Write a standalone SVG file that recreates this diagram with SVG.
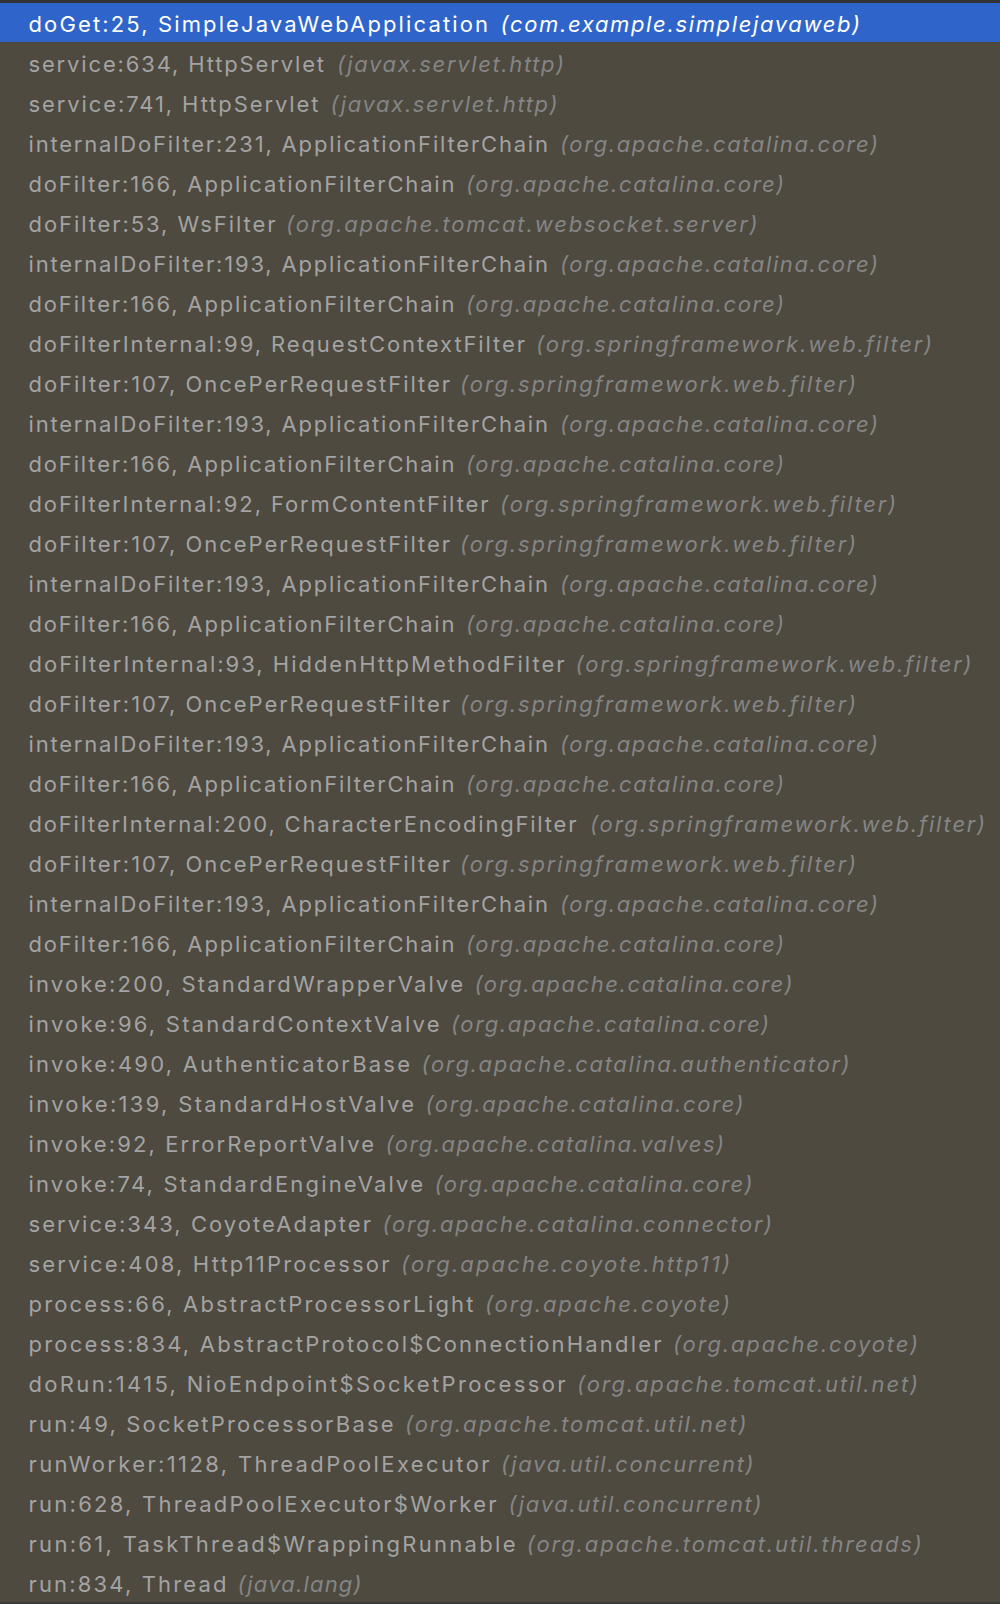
<svg xmlns="http://www.w3.org/2000/svg" width="1000" height="1604" viewBox="0 0 1000 1604">
<style>
text{font-family:Inter,"Liberation Sans",Arial,sans-serif;font-size:22px}
.m{fill:#a3a3a3}
.p{fill:#858585;font-style:italic}
.sel .m,.sel .p{fill:#ffffff}
</style>
<rect x="0" y="0" width="1000" height="1604" fill="#4e4a40"/>
<rect x="0" y="0" width="1000" height="3" fill="#333436"/>
<rect x="0" y="1602" width="1000" height="2" fill="#3a3b3d"/>
<rect x="0" y="3" width="1000" height="39" fill="#2f65ca"/>
<g id="f1" class="sel"><text y="31.7"><tspan class="m" x="28.5" textLength="459.5" lengthAdjust="spacing">doGet:25, SimpleJavaWebApplication</tspan><tspan class="p" x="500.5" textLength="359.5" lengthAdjust="spacing">(com.example.simplejavaweb)</tspan></text></g>
<g id="f2"><text y="71.7"><tspan class="m" x="28.5" textLength="295.5" lengthAdjust="spacing">service:634, HttpServlet</tspan><tspan class="p" x="337" textLength="227" lengthAdjust="spacing">(javax.servlet.http)</tspan></text></g>
<g id="f3"><text y="111.7"><tspan class="m" x="28.5" textLength="290" lengthAdjust="spacing">service:741, HttpServlet</tspan><tspan class="p" x="330.5" textLength="227" lengthAdjust="spacing">(javax.servlet.http)</tspan></text></g>
<g id="f4"><text y="151.7"><tspan class="m" x="28.5" textLength="519.5" lengthAdjust="spacing">internalDoFilter:231, ApplicationFilterChain</tspan><tspan class="p" x="560" textLength="318" lengthAdjust="spacing">(org.apache.catalina.core)</tspan></text></g>
<g id="f5"><text y="191.7"><tspan class="m" x="28.5" textLength="426" lengthAdjust="spacing">doFilter:166, ApplicationFilterChain</tspan><tspan class="p" x="466" textLength="318" lengthAdjust="spacing">(org.apache.catalina.core)</tspan></text></g>
<g id="f6"><text y="231.7"><tspan class="m" x="28.5" textLength="247" lengthAdjust="spacing">doFilter:53, WsFilter</tspan><tspan class="p" x="286" textLength="471.5" lengthAdjust="spacing">(org.apache.tomcat.websocket.server)</tspan></text></g>
<g id="f7"><text y="271.7"><tspan class="m" x="28.5" textLength="519.5" lengthAdjust="spacing">internalDoFilter:193, ApplicationFilterChain</tspan><tspan class="p" x="560" textLength="318" lengthAdjust="spacing">(org.apache.catalina.core)</tspan></text></g>
<g id="f8"><text y="311.7"><tspan class="m" x="28.5" textLength="426" lengthAdjust="spacing">doFilter:166, ApplicationFilterChain</tspan><tspan class="p" x="466" textLength="318" lengthAdjust="spacing">(org.apache.catalina.core)</tspan></text></g>
<g id="f9"><text y="351.7"><tspan class="m" x="28.5" textLength="496.5" lengthAdjust="spacing">doFilterInternal:99, RequestContextFilter</tspan><tspan class="p" x="536" textLength="396" lengthAdjust="spacing">(org.springframework.web.filter)</tspan></text></g>
<g id="f10"><text y="391.7"><tspan class="m" x="28.5" textLength="421.5" lengthAdjust="spacing">doFilter:107, OncePerRequestFilter</tspan><tspan class="p" x="460" textLength="396" lengthAdjust="spacing">(org.springframework.web.filter)</tspan></text></g>
<g id="f11"><text y="431.7"><tspan class="m" x="28.5" textLength="519.5" lengthAdjust="spacing">internalDoFilter:193, ApplicationFilterChain</tspan><tspan class="p" x="560" textLength="318" lengthAdjust="spacing">(org.apache.catalina.core)</tspan></text></g>
<g id="f12"><text y="471.7"><tspan class="m" x="28.5" textLength="426" lengthAdjust="spacing">doFilter:166, ApplicationFilterChain</tspan><tspan class="p" x="466" textLength="318" lengthAdjust="spacing">(org.apache.catalina.core)</tspan></text></g>
<g id="f13"><text y="511.7"><tspan class="m" x="28.5" textLength="460" lengthAdjust="spacing">doFilterInternal:92, FormContentFilter</tspan><tspan class="p" x="500" textLength="396" lengthAdjust="spacing">(org.springframework.web.filter)</tspan></text></g>
<g id="f14"><text y="551.7"><tspan class="m" x="28.5" textLength="421.5" lengthAdjust="spacing">doFilter:107, OncePerRequestFilter</tspan><tspan class="p" x="460" textLength="396" lengthAdjust="spacing">(org.springframework.web.filter)</tspan></text></g>
<g id="f15"><text y="591.7"><tspan class="m" x="28.5" textLength="519.5" lengthAdjust="spacing">internalDoFilter:193, ApplicationFilterChain</tspan><tspan class="p" x="560" textLength="318" lengthAdjust="spacing">(org.apache.catalina.core)</tspan></text></g>
<g id="f16"><text y="631.7"><tspan class="m" x="28.5" textLength="426" lengthAdjust="spacing">doFilter:166, ApplicationFilterChain</tspan><tspan class="p" x="466" textLength="318" lengthAdjust="spacing">(org.apache.catalina.core)</tspan></text></g>
<g id="f17"><text y="671.7"><tspan class="m" x="28.5" textLength="536" lengthAdjust="spacing">doFilterInternal:93, HiddenHttpMethodFilter</tspan><tspan class="p" x="575.5" textLength="396" lengthAdjust="spacing">(org.springframework.web.filter)</tspan></text></g>
<g id="f18"><text y="711.7"><tspan class="m" x="28.5" textLength="421.5" lengthAdjust="spacing">doFilter:107, OncePerRequestFilter</tspan><tspan class="p" x="460" textLength="396" lengthAdjust="spacing">(org.springframework.web.filter)</tspan></text></g>
<g id="f19"><text y="751.7"><tspan class="m" x="28.5" textLength="519.5" lengthAdjust="spacing">internalDoFilter:193, ApplicationFilterChain</tspan><tspan class="p" x="560" textLength="318" lengthAdjust="spacing">(org.apache.catalina.core)</tspan></text></g>
<g id="f20"><text y="791.7"><tspan class="m" x="28.5" textLength="426" lengthAdjust="spacing">doFilter:166, ApplicationFilterChain</tspan><tspan class="p" x="466" textLength="318" lengthAdjust="spacing">(org.apache.catalina.core)</tspan></text></g>
<g id="f21"><text y="831.7"><tspan class="m" x="28.5" textLength="548" lengthAdjust="spacing">doFilterInternal:200, CharacterEncodingFilter</tspan><tspan class="p" x="590" textLength="395" lengthAdjust="spacing">(org.springframework.web.filter)</tspan></text></g>
<g id="f22"><text y="871.7"><tspan class="m" x="28.5" textLength="421.5" lengthAdjust="spacing">doFilter:107, OncePerRequestFilter</tspan><tspan class="p" x="460" textLength="396" lengthAdjust="spacing">(org.springframework.web.filter)</tspan></text></g>
<g id="f23"><text y="911.7"><tspan class="m" x="28.5" textLength="519.5" lengthAdjust="spacing">internalDoFilter:193, ApplicationFilterChain</tspan><tspan class="p" x="560" textLength="318" lengthAdjust="spacing">(org.apache.catalina.core)</tspan></text></g>
<g id="f24"><text y="951.7"><tspan class="m" x="28.5" textLength="426" lengthAdjust="spacing">doFilter:166, ApplicationFilterChain</tspan><tspan class="p" x="466" textLength="318" lengthAdjust="spacing">(org.apache.catalina.core)</tspan></text></g>
<g id="f25"><text y="991.7"><tspan class="m" x="28.5" textLength="434.5" lengthAdjust="spacing">invoke:200, StandardWrapperValve</tspan><tspan class="p" x="474.5" textLength="318" lengthAdjust="spacing">(org.apache.catalina.core)</tspan></text></g>
<g id="f26"><text y="1031.7"><tspan class="m" x="28.5" textLength="411" lengthAdjust="spacing">invoke:96, StandardContextValve</tspan><tspan class="p" x="451" textLength="318" lengthAdjust="spacing">(org.apache.catalina.core)</tspan></text></g>
<g id="f27"><text y="1071.7"><tspan class="m" x="28.5" textLength="381.5" lengthAdjust="spacing">invoke:490, AuthenticatorBase</tspan><tspan class="p" x="421.5" textLength="428" lengthAdjust="spacing">(org.apache.catalina.authenticator)</tspan></text></g>
<g id="f28"><text y="1111.7"><tspan class="m" x="28.5" textLength="385.5" lengthAdjust="spacing">invoke:139, StandardHostValve</tspan><tspan class="p" x="425.5" textLength="318" lengthAdjust="spacing">(org.apache.catalina.core)</tspan></text></g>
<g id="f29"><text y="1151.7"><tspan class="m" x="28.5" textLength="345.5" lengthAdjust="spacing">invoke:92, ErrorReportValve</tspan><tspan class="p" x="385.5" textLength="338.5" lengthAdjust="spacing">(org.apache.catalina.valves)</tspan></text></g>
<g id="f30"><text y="1191.7"><tspan class="m" x="28.5" textLength="394.5" lengthAdjust="spacing">invoke:74, StandardEngineValve</tspan><tspan class="p" x="434.5" textLength="318" lengthAdjust="spacing">(org.apache.catalina.core)</tspan></text></g>
<g id="f31"><text y="1231.7"><tspan class="m" x="28.5" textLength="342.5" lengthAdjust="spacing">service:343, CoyoteAdapter</tspan><tspan class="p" x="382.5" textLength="389.5" lengthAdjust="spacing">(org.apache.catalina.connector)</tspan></text></g>
<g id="f32"><text y="1271.7"><tspan class="m" x="28.5" textLength="361" lengthAdjust="spacing">service:408, Http11Processor</tspan><tspan class="p" x="401" textLength="329" lengthAdjust="spacing">(org.apache.coyote.http11)</tspan></text></g>
<g id="f33"><text y="1311.7"><tspan class="m" x="28.5" textLength="445" lengthAdjust="spacing">process:66, AbstractProcessorLight</tspan><tspan class="p" x="485" textLength="245" lengthAdjust="spacing">(org.apache.coyote)</tspan></text></g>
<g id="f34"><text y="1351.7"><tspan class="m" x="28.5" textLength="633" lengthAdjust="spacing">process:834, AbstractProtocol$ConnectionHandler</tspan><tspan class="p" x="673" textLength="245" lengthAdjust="spacing">(org.apache.coyote)</tspan></text></g>
<g id="f35"><text y="1391.7"><tspan class="m" x="28.5" textLength="537" lengthAdjust="spacing">doRun:1415, NioEndpoint$SocketProcessor</tspan><tspan class="p" x="577" textLength="341" lengthAdjust="spacing">(org.apache.tomcat.util.net)</tspan></text></g>
<g id="f36"><text y="1431.7"><tspan class="m" x="28.5" textLength="365" lengthAdjust="spacing">run:49, SocketProcessorBase</tspan><tspan class="p" x="405" textLength="341.5" lengthAdjust="spacing">(org.apache.tomcat.util.net)</tspan></text></g>
<g id="f37"><text y="1471.7"><tspan class="m" x="28.5" textLength="461" lengthAdjust="spacing">runWorker:1128, ThreadPoolExecutor</tspan><tspan class="p" x="501" textLength="252.5" lengthAdjust="spacing">(java.util.concurrent)</tspan></text></g>
<g id="f38"><text y="1511.7"><tspan class="m" x="28.5" textLength="468" lengthAdjust="spacing">run:628, ThreadPoolExecutor$Worker</tspan><tspan class="p" x="508.5" textLength="253" lengthAdjust="spacing">(java.util.concurrent)</tspan></text></g>
<g id="f39"><text y="1551.7"><tspan class="m" x="28.5" textLength="487" lengthAdjust="spacing">run:61, TaskThread$WrappingRunnable</tspan><tspan class="p" x="526.8" textLength="395" lengthAdjust="spacing">(org.apache.tomcat.util.threads)</tspan></text></g>
<g id="f40"><text y="1591.7"><tspan class="m" x="28.5" textLength="198" lengthAdjust="spacing">run:834, Thread</tspan><tspan class="p" x="237.5" textLength="124" lengthAdjust="spacing">(java.lang)</tspan></text></g>
</svg>
